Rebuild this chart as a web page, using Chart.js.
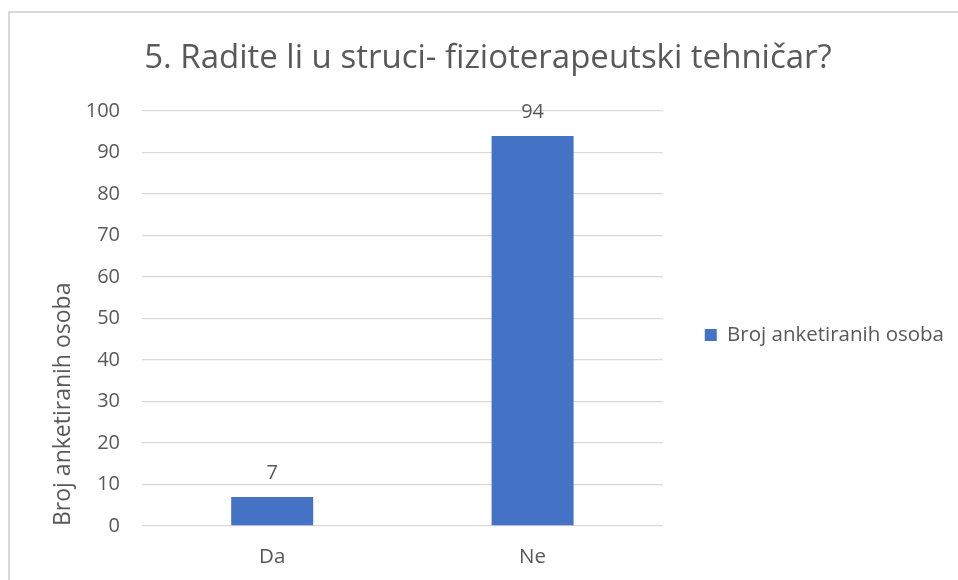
<!DOCTYPE html>
<html>
<head>
<meta charset="utf-8">
<script src="https://cdn.jsdelivr.net/npm/chart.js@4"></script>
<style>
  html, body { margin: 0; padding: 0; background: #ffffff; }
  #wrap { position: relative; width: 958px; height: 580px; overflow: hidden; }
  #frame { position: absolute; left: 8px; top: 11px; width: 1000px; height: 700px;
           border-top: 2px solid #d9d9d9; border-left: 2px solid #d9d9d9; pointer-events: none; }
</style>
</head>
<body>
<div id="wrap">
  <canvas id="c" width="958" height="580"></canvas>
  <div id="frame"></div>
</div>
<script>
const chartTitle = "5. Radite li u struci- fizioterapeutski tehničar?";
const categories = ["Da", "Ne"];
const seriesName = "Broj anketiranih osoba";
const seriesValues = [7, 94];
const yAxisTitle = "Broj anketiranih osoba";
const yTicksMin = 0;
const yTicksMax = 100;
const yTicksStep = 10;

const TEXT = "#595959";
const FONT = "'Open Sans', 'Noto Sans', sans-serif";

const dataLabels = {
  id: "dataLabels",
  afterDatasetsDraw(chart) {
    const ctx = chart.ctx;
    const meta = chart.getDatasetMeta(0);
    ctx.save();
    ctx.font = "20px " + FONT;
    ctx.fillStyle = TEXT;
    ctx.textAlign = "center";
    ctx.textBaseline = "alphabetic";
    meta.data.forEach((bar, i) => {
      ctx.fillText(String(chart.data.datasets[0].data[i]), bar.x, bar.y - 17.5);
    });
    ctx.restore();
  }
};

new Chart(document.getElementById("c"), {
  type: "bar",
  data: {
    labels: categories,
    datasets: [{
      label: seriesName,
      data: seriesValues,
      backgroundColor: "#4472C4",
      borderWidth: 0,
      barPercentage: 0.315,
      categoryPercentage: 1.0
    }]
  },
  options: {
    responsive: false,
    animation: false,
    devicePixelRatio: 1,
    layout: { padding: { left: 22, right: 4, top: 0, bottom: 0 } },
    plugins: {
      title: {
        display: true,
        text: chartTitle,
        color: TEXT,
        font: { family: FONT, size: 33, weight: "normal", lineHeight: 1.2 },
        padding: { top: 38.4, bottom: 33 }
      },
      legend: {
        display: true,
        position: "right",
        align: "center",
        maxWidth: 300,
        title: { display: true, text: " ", font: { size: 10, lineHeight: 1.2 }, padding: { top: 39, bottom: 39 } },
        labels: {
          boxWidth: 12,
          boxHeight: 12,
          padding: 42,
          color: TEXT,
          font: { family: FONT, size: 20.5 }
        }
      },
      tooltip: { enabled: false }
    },
    scales: {
      x: {
        grid: { display: false, drawTicks: false },
        border: { display: false },
        ticks: { color: TEXT, font: { family: FONT, size: 20.5 }, padding: 19 },
        afterFit(scale) { scale.height = 54; }
      },
      y: {
        min: yTicksMin,
        max: yTicksMax,
        grid: { color: "#d9d9d9", lineWidth: 1.3, drawTicks: false },
        border: { display: false },
        ticks: { stepSize: yTicksStep, color: TEXT, font: { family: FONT, size: 20 }, padding: 22 },
        title: {
          display: true,
          text: yAxisTitle,
          align: "start",
          color: TEXT,
          font: { family: FONT, size: 23, lineHeight: 1.2 },
          padding: { top: 28, bottom: 0 }
        },
        afterFit(scale) { scale.width = 120; }
      }
    }
  },
  plugins: [dataLabels]
});
</script>
</body>
</html>
